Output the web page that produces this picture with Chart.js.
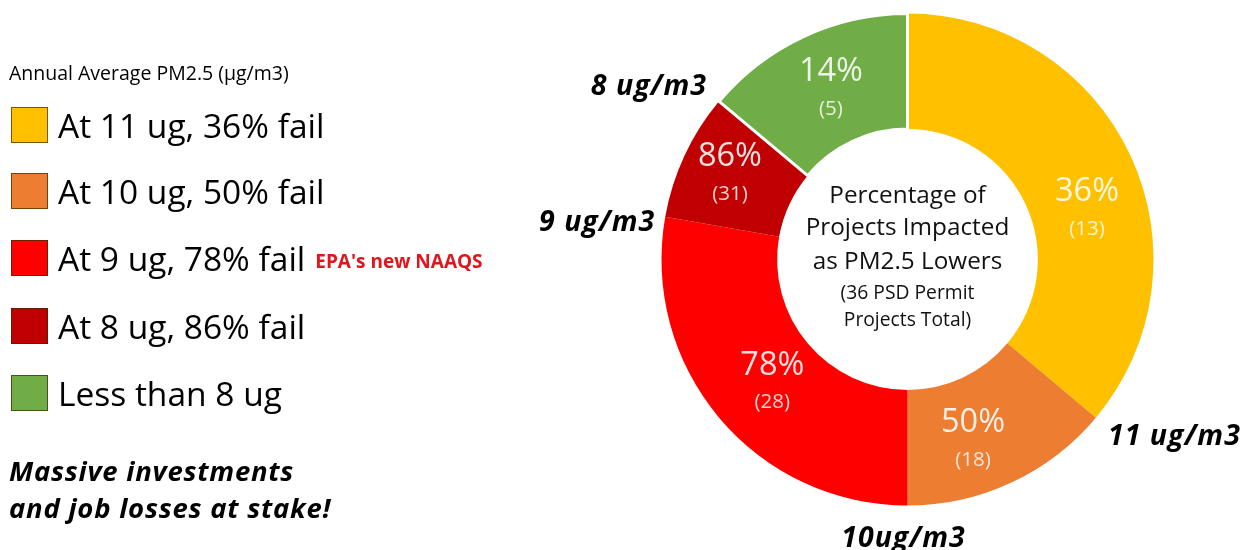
<!DOCTYPE html>
<html>
<head>
<meta charset="utf-8">
<script src="https://cdn.jsdelivr.net/npm/chart.js@4.4.1/dist/chart.umd.min.js"></script>
<style>
  html, body { margin: 0; padding: 0; background: #fff; }
  #wrap { position: relative; width: 1254px; height: 550px; overflow: hidden;
          font-family: "Open Sans", "Noto Sans", sans-serif; color: #000; }
  #pm { position: absolute; left: 0; top: 0; }
  .legend-title { position: absolute; left: 9px; top: 61px; font-size: 19.5px; line-height: 24px; white-space: nowrap; }
  .legend-row { position: absolute; left: 11px; height: 40px; display: flex; align-items: center; white-space: nowrap; }
  .swatch { width: 35px; height: 34px; border: 1px solid rgba(60,40,0,0.7); box-sizing: content-box; flex: none; }
  .row-text { margin-left: 10px; font-size: 33.5px; line-height: 40px; }
  .row-note { margin-left: 10px; font-size: 19px; font-weight: 700; color: #E3141B; position: relative; top: 3px; }
  .tagline { position: absolute; left: 9px; top: 452px; font-size: 27.5px; line-height: 37px; letter-spacing: 0.75px;
             font-weight: 700; font-style: italic; white-space: nowrap; }
</style>
</head>
<body>
<div id="wrap">
  <canvas id="pm" width="1254" height="550"></canvas>
  <div class="legend-title" id="legendTitle"></div>
  <div id="legend"></div>
  <div class="tagline">Massive investments<br>and job losses at stake!</div>
</div>
<script>
// PM2.5 design-value bands for the 36 PSD permit projects
const bandLabels = ['At 11 ug, 36% fail', 'At 10 ug, 50% fail', 'At 9 ug, 78% fail', 'At 8 ug, 86% fail', 'Less than 8 ug'];
const projectCounts = [13, 5, 10, 3, 5];          // projects falling in each band
const bandColors = ['#FFC000', '#ED7D31', '#FF0000', '#C00000', '#70AD47'];
const thresholdLabels = ['11 ug/m3', '10ug/m3', '9 ug/m3', '8 ug/m3'];
const legendTitle = 'Annual Average PM2.5 (\u00B5g/m3)';
const naaqsNote = "EPA's new NAAQS";
const centerLines = ['Percentage of', 'Projects Impacted', 'as PM2.5 Lowers'];
const centerNote = ['(36 PSD Permit', 'Projects Total)'];

const totalProjects = projectCounts.reduce((a, b) => a + b, 0);

// Failing bands show the running total of failing projects; the last band shows its own count
const sliceCounts = projectCounts.map((v, i, arr) =>
  i < arr.length - 1 ? arr.slice(0, i + 1).reduce((a, b) => a + b, 0) : v);
const slicePercents = sliceCounts.map(c => Math.round(c / totalProjects * 100) + '%');

// ----- HTML legend -----
document.getElementById('legendTitle').textContent = legendTitle;
const legendEl = document.getElementById('legend');
const rowTops = [105, 171, 238, 306, 373];
bandLabels.forEach((label, i) => {
  const row = document.createElement('div');
  row.className = 'legend-row';
  row.style.top = rowTops[i] + 'px';
  const sw = document.createElement('div');
  sw.className = 'swatch';
  sw.style.background = bandColors[i];
  const tx = document.createElement('span');
  tx.className = 'row-text';
  tx.textContent = label;
  row.appendChild(sw);
  row.appendChild(tx);
  if (i === 2) {
    const note = document.createElement('span');
    note.className = 'row-note';
    note.textContent = naaqsNote;
    row.appendChild(note);
  }
  legendEl.appendChild(row);
});

// ----- label placement tweaks (pixels, relative to each slice centre) -----
const sliceLabelShift = [[9, 30], [-14, 11], [9, 3], [-7, -5], [3, 1]];
// threshold tags: offset from the outer end point of the slice, plus alignment
const thresholdShift = [[12, 19, 'left'], [-4, 33, 'center'], [-10, 6, 'right'], [-12, -14, 'right']];

const FONT = '"Open Sans", "Noto Sans", sans-serif';

const doughnutText = {
  id: 'doughnutText',
  afterDatasetsDraw(chart) {
    const ctx = chart.ctx;
    const arcs = chart.getDatasetMeta(0).data;
    ctx.save();
    ctx.textAlign = 'center';
    ctx.textBaseline = 'middle';

    // values inside the ring
    arcs.forEach((arc, i) => {
      const c = arc.getCenterPoint();
      const x = c.x + sliceLabelShift[i][0];
      const y = c.y + sliceLabelShift[i][1];
      ctx.fillStyle = 'rgba(255,255,255,0.88)';
      ctx.font = '32.5px ' + FONT;
      ctx.fillText(slicePercents[i], x, y - 18);
      ctx.fillStyle = 'rgba(255,255,255,0.82)';
      ctx.font = '20.5px ' + FONT;
      ctx.fillText('(' + sliceCounts[i] + ')', x, y + 19);
    });

    // threshold tags at the slice boundaries
    ctx.fillStyle = '#000';
    ctx.font = 'italic 700 28.5px ' + FONT;
    if ('letterSpacing' in ctx) ctx.letterSpacing = '1px';
    thresholdLabels.forEach((t, i) => {
      const a = arcs[i].getProps(['x', 'y', 'endAngle', 'outerRadius'], true);
      const px = a.x + a.outerRadius * Math.cos(a.endAngle) + thresholdShift[i][0];
      const py = a.y + a.outerRadius * Math.sin(a.endAngle) + thresholdShift[i][1];
      ctx.textAlign = thresholdShift[i][2];
      ctx.fillText(t, px, py);
    });
    if ('letterSpacing' in ctx) ctx.letterSpacing = '0px';

    // centre caption
    const cx = arcs[0].x, cy = arcs[0].y;
    ctx.textAlign = 'center';
    ctx.font = '24.3px ' + FONT;
    ctx.fillStyle = '#111';
    [-63, -31, 3].forEach((dy, i) => ctx.fillText(centerLines[i], cx, cy + dy));
    ctx.font = '19.3px ' + FONT;
    [34, 61].forEach((dy, i) => ctx.fillText(centerNote[i], cx, cy + dy));
    ctx.restore();
  }
};

new Chart(document.getElementById('pm'), {
  type: 'doughnut',
  data: {
    labels: bandLabels,
    datasets: [{
      data: projectCounts,
      backgroundColor: bandColors,
      borderColor: '#ffffff',
      borderWidth: [0, 0, 0, 0, 3],
      hoverOffset: 0
    }]
  },
  options: {
    responsive: false,
    animation: false,
    cutout: '53%',
    rotation: 0,
    layout: { padding: { left: 660, right: 99, top: 12, bottom: 43 } },
    plugins: { legend: { display: false }, tooltip: { enabled: false } }
  },
  plugins: [doughnutText]
});
</script>
</body>
</html>
